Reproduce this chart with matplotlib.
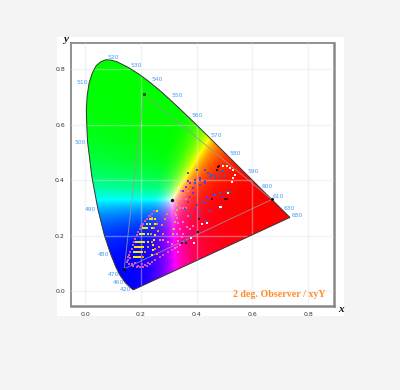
import numpy as np
import matplotlib
matplotlib.use('Agg')
import matplotlib.pyplot as plt
from matplotlib.patches import Polygon, Rectangle

# CIE 1931 2 deg spectral locus
locus_x = [.1741, .1714, .1689, .1644, .1566, .1440, .1241, .1096, .0913, .0687, .0454, .0235, .0082, .0055,
           .0039, .0070, .0139, .0250, .0389, .0560, .0743, .0940, .1142, .1547, .1929, .2296, .2658, .3016, .3373, .3731, .4087,
           .4441, .4788, .5125, .5448, .5752, .6029, .6270, .6482, .6658, .6915, .7079, .7190, .7347]
locus_y = [.0050, .0051, .0069, .0109, .0177, .0297, .0578, .0868, .1327, .2007, .2950, .4127, .5384, .5970,
           .6548, .7050, .7502, .7850, .8120, .8265, .8338, .8320, .8262, .8059, .7816, .7543, .7243, .6923, .6589, .6245, .5896,
           .5547, .5202, .4866, .4544, .4242, .3965, .3725, .3514, .3340, .3083, .2920, .2809, .2653]

nm_labels = ['420', '460', '470', '480', '490', '500', '510', '520', '530', '540',
             '550', '560', '570', '580', '590', '600', '610', '630', '680']
nm_x = [.146, .118, .100, .064, .020, -.019, -.012, .100, .182, .257,
        .329, .401, .469, .537, .602, .652, .692, .732, .760]
nm_y = [.004, .029, .058, .133, .295, .537, .750, .843, .814, .764,
        .703, .631, .562, .494, .432, .378, .339, .299, .274]

# NTSC gamut
gamut_x = [.67, .21, .14]
gamut_y = [.33, .71, .08]
white_x = [.3127]
white_y = [.329]

yellow_x = [.256, .232, .250, .222, .234, .250, .208, .222, .238, .196, .210, .226, .182, .196, .210, .226,
            .178, .192, .208, .174, .190, .202, .174, .186, .196, .250, .248, .244, .242, .238, .241, .215, .203,
            .189, .203, .185, .200, .182, .196, .180, .191]
yellow_y = [.289, .261, .261, .243, .243, .243, .228, .228, .228, .207, .207, .207, .177, .177, .177, .177,
            .159, .159, .159, .141, .141, .141, .123, .123, .123, .201, .183, .165, .147, .129, .261, .228, .207,
            .177, .177, .159, .159, .141, .141, .123, .123]
orange_x = [.294, .286, .274, .280, .268, .263, .256, .240, .258, .246, .236, .238, .224, .216, .208, .262, .250]
orange_y = [.277, .258, .237, .207, .183, .159, .135, .262, .243, .228, .207, .177, .159, .141, .123, .218, .150]
magenta_x = [.238, .222, .208, .196, .184, .174, .166, .158, .154, .166, .190, .214, .238, .268, .298, .328,
             .231, .215, .202, .190, .178, .170, .162, .160, .178, .202, .226, .245, .228, .214, .201, .190,
             .179, .170, .162, .154, .150, .158, .172, .184, .196, .208, .220, .232, .250, .280, .310]
magenta_y = [.279, .261, .243, .225, .201, .177, .153, .129, .111, .097, .090, .093, .105, .123, .141, .159,
             .270, .252, .234, .213, .189, .165, .141, .118, .100, .096, .100, .288, .270, .252, .234, .213,
             .189, .165, .141, .122, .105, .097, .090, .086, .085, .086, .090, .096, .112, .130, .148]
pink_x = [.280, .298, .310, .322, .334, .346, .340, .334, .328, .322, .334, .352, .370, .340, .352, .316,
          .328, .364, .376, .388, .345, .355, .345, .360, .370, .340, .350, .360]
pink_y = [.183, .177, .170, .155, .180, .196, .225, .245, .262, .280, .140, .250, .272, .165, .205, .222,
          .205, .232, .225, .235, .360, .345, .330, .330, .360, .300, .300, .300]
green_x = [.328, .328, .325, .322, .320, .314]
green_y = [.309, .291, .273, .249, .225, .207]
blue_x = [.400, .370, .430, .440, .450, .462, .448, .484, .496, .502, .484, .466, .448, .430, .412, .394,
          .520, .508, .484, .466, .442, .418, .400, .358, .380, .358, .376, .400, .412, .484, .448, .432]
blue_y = [.435, .426, .436, .426, .418, .418, .410, .430, .431, .416, .412, .406, .410, .398, .400, .391,
          .358, .358, .352, .346, .328, .322, .310, .295, .270, .180, .190, .212, .285, .300, .290, .254]
purple_x = [.412, .394, .376, .430, .412, .388, .376, .400, .436, .490, .460, .430, .370, .394, .412, .382,
            .340, .364, .362, .350, .385, .368]
purple_y = [.406, .400, .388, .390, .382, .352, .340, .310, .340, .340, .345, .318, .322, .295, .270, .215,
            .175, .205, .375, .362, .372, .398]
white_mark_x = [.496, .508, .520, .532, .538, .532, .526, .514, .488, .436, .484, .420, .381, .390]
white_mark_y = [.450, .450, .442, .436, .418, .406, .394, .354, .304, .244, .302, .240, .190, .173]
dark_x = [.478, .472, .500, .508, .454, .410, .406, .346, .360, .480]
dark_y = [.446, .436, .330, .330, .330, .261, .212, .172, .172, .450]

fig = plt.figure(figsize=(4, 3.9), dpi=100, facecolor='#f4f4f4')
W, H = 400.0, 390.0
fig.patches.append(Rectangle((57 / W, 1 - 316 / H), 287 / W, 279 / H, transform=fig.transFigure,
                             facecolor='white', edgecolor='none', zorder=-5))
ax = fig.add_axes([70.5 / W, 1 - 306 / H, 263.5 / W, 263 / H])
ax.set_xlim(-0.053, 0.893)
ax.set_ylim(-0.054, 0.894)

# chromaticity background, xy to linear sRGB, scaled to the brightest channel
gx, gy = np.meshgrid(np.linspace(0, 0.76, 500), np.linspace(0, 0.86, 500))
gy_safe = np.maximum(gy, 1e-4)
X = gx / gy_safe
Z = (1 - gx - gy) / gy_safe
R = 3.2406 * X - 1.5372 - 0.4986 * Z
G = -0.9689 * X + 1.8758 + 0.0415 * Z
B = 0.0557 * X - 0.2040 + 1.0570 * Z
rgb = np.clip(np.dstack([R, G, B]), 0, None)
rgb = rgb / rgb.max(axis=2, keepdims=True)
rgb = rgb ** 2.0
im = ax.imshow(rgb, origin='lower', extent=(0, 0.76, 0, 0.86), aspect='auto', zorder=1, interpolation='bilinear')
locus = Polygon(np.column_stack([locus_x, locus_y]), closed=True, transform=ax.transData,
                facecolor='none', edgecolor='#333333', lw=0.7, zorder=3)
ax.add_patch(locus)
im.set_clip_path(locus)

ax.set_xticks([0, .2, .4, .6, .8])
ax.set_yticks([0, .2, .4, .6, .8])
ax.set_xticklabels(['0.0', '0.2', '0.4', '0.6', '0.8'])
ax.set_yticklabels(['0.0', '0.2', '0.4', '0.6', '0.8'])
ax.tick_params(length=0, labelsize=4.5, labelcolor='#333333', pad=4)
ax.grid(True, color='#e4e4e4', lw=1, alpha=0.4, zorder=2)
ax.set_axisbelow(False)
for s in ax.spines.values():
    s.set_color('#888888')
    s.set_linewidth(1.3)
ax.spines['right'].set_linewidth(1.8)
ax.spines['bottom'].set_linewidth(1.8)

# gamut triangle and points
ax.plot(gamut_x + gamut_x[:1], gamut_y + gamut_y[:1], color='#999999', lw=0.7, alpha=0.8, zorder=4)
ms = 3.8
ax.scatter(magenta_x, magenta_y, s=ms, marker='s', color='#e050c0', lw=0, zorder=5)
ax.scatter(pink_x, pink_y, s=ms, marker='s', color='#ff70c8', lw=0, zorder=5)
ax.scatter(purple_x, purple_y, s=ms, marker='s', color='#9020e0', lw=0, zorder=5)
ax.scatter(blue_x, blue_y, s=ms, marker='s', color='#3060d0', lw=0, zorder=5)
ax.scatter(green_x, green_y, s=ms, marker='s', color='#a0d050', lw=0, zorder=5)
ax.scatter(orange_x, orange_y, s=ms, marker='s', color='#ff8a10', lw=0, zorder=6)
ax.scatter(yellow_x, yellow_y, s=ms, marker='s', color='#ffe600', lw=0, zorder=6)
ax.scatter(white_mark_x, white_mark_y, s=ms, marker='s', color='#fff4f8', lw=0, zorder=6)
ax.scatter(dark_x, dark_y, s=ms, marker='s', color='#500010', lw=0, zorder=6)
ax.scatter(gamut_x, gamut_y, s=5, color='#111111', lw=0, zorder=7)
ax.scatter(white_x, white_y, s=6, color='#111111', lw=0, zorder=7)
ax.scatter(gamut_x[1:2], gamut_y[1:2], s=5, color='#0a5a0a', lw=0, zorder=7)

for t, px, py in zip(nm_labels, nm_x, nm_y):
    ax.text(px, py, t, fontsize=4.3, color='#4a9cf0', ha='center', va='center', zorder=8)

serif = 'Liberation Serif'
ax.text(0.862, -0.012, '2 deg. Observer / xyY', fontsize=7.2, fontweight='bold', family=serif,
        color='#ff8c28', ha='right', va='center', zorder=8)
fig.text(66 / W, 1 - 39 / H, 'y', fontsize=8, fontweight='bold', style='italic', family=serif,
         color='#111111', ha='center', va='center')
fig.text(341 / W, 1 - 309 / H, 'x', fontsize=8, fontweight='bold', style='italic', family=serif,
         color='#111111', ha='center', va='center')

fig.savefig('out.png', dpi=100, facecolor=fig.get_facecolor())
